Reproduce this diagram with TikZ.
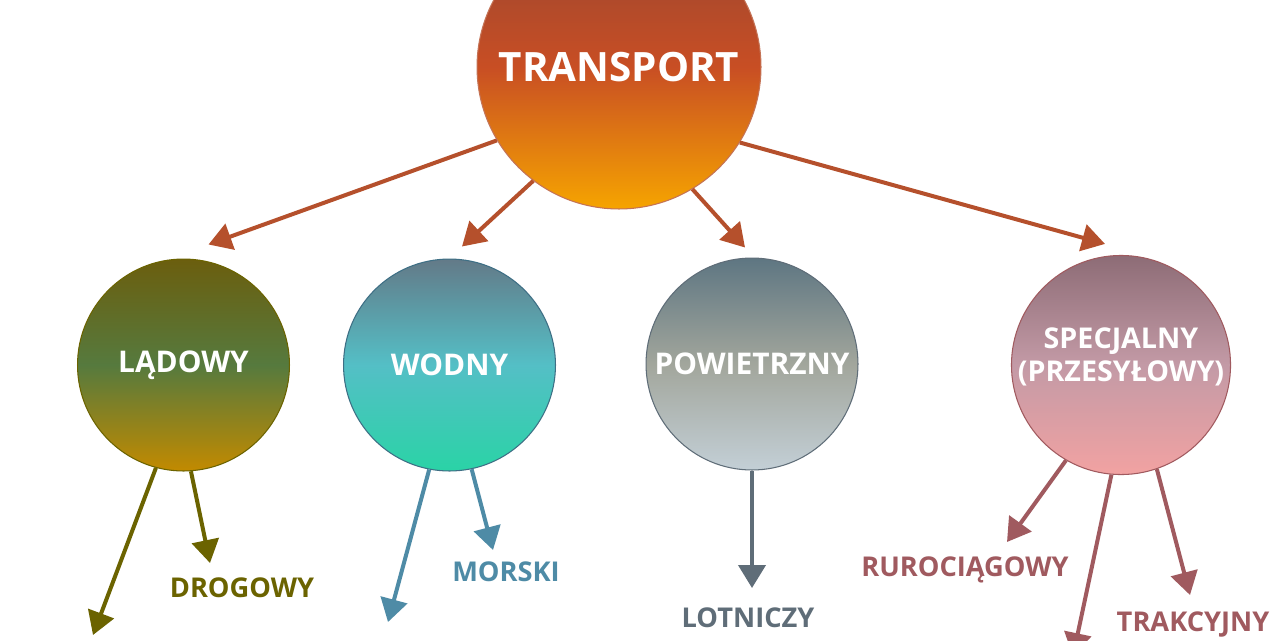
\documentclass[tikz,border=0pt]{standalone}
\usepackage{fontspec}
\setmainfont{Open Sans}
\usetikzlibrary{positioning, arrows.meta, calc}

\definecolor{mainarrow}{HTML}{B5502C}
\definecolor{ladarrow}{HTML}{6B6300}
\definecolor{wodarrow}{HTML}{4E8BA6}
\definecolor{powarrow}{HTML}{5F6D78}
\definecolor{specarrow}{HTML}{A05A5F}

\begin{document}
\begin{tikzpicture}[x=0.02cm, y=-0.02cm,
  mode/.style={circle, inner sep=0pt, minimum size=4.24cm, align=center, text=white,
    font=\fontsize{17}{19}\selectfont\bfseries},
  kind/.style={font=\fontsize{15.5}{18}\selectfont\bfseries, inner sep=0pt,
    text height=11pt, text depth=0pt},
  link/.style={-{Triangle[length=0.46cm,width=0.54cm]}, line width=0.08cm},
]
  \clip (0,0) rectangle (1280,640);
  \fill[white] (0,0) rectangle (1280,640);

  \node[circle, inner sep=0pt, minimum size=5.68cm, draw=mainarrow!80, line width=0.6pt,
    text=white, font=\fontsize{23}{26}\selectfont\bfseries,
    top color={rgb,255:red,150;green,70;blue,50}, bottom color={rgb,255:red,246;green,164;blue,0},
    middle color={rgb,255:red,200;green,78;blue,36}] (transport) at (619,67) {TRANSPORT};

  \node[mode, draw=ladarrow, line width=0.6pt,
    top color={rgb,255:red,107;green,94;blue,14}, bottom color={rgb,255:red,194;green,138;blue,0},
    middle color={rgb,255:red,86;green,122;blue,62}] (ladowy) at (183.5,365) {LĄDOWY};
  \node[mode, draw=wodarrow!80!black, line width=0.6pt,
    top color={rgb,255:red,99;green,122;blue,136}, bottom color={rgb,255:red,42;green,211;blue,166},
    middle color={rgb,255:red,84;green,191;blue,198}] (wodny) at (449.5,365) {WODNY};
  \node[mode, draw=powarrow, line width=0.6pt,
    top color={rgb,255:red,94;green,118;blue,130}, bottom color={rgb,255:red,195;green,207;blue,214},
    middle color={rgb,255:red,162;green,166;blue,156}] (powietrzny) at (752,364) {POWIETRZNY};
  \node[mode, draw=specarrow, line width=0.6pt, text depth=0.42cm,
    font=\fontsize{16.3}{18.6}\selectfont\bfseries,
    top color={rgb,255:red,141;green,108;blue,118}, bottom color={rgb,255:red,242;green,162;blue,162},
    middle color={rgb,255:red,195;green,154;blue,166}] (specjalny) at (1121,365)
    {SPECJALNY\\(PRZESYŁOWY)};

  \node[kind, text=ladarrow] (drogowy) at (242,588) {DROGOWY};
  \node[kind, text=wodarrow] (morski) at (506,572) {MORSKI};
  \node[kind, text=powarrow] (lotniczy) at (748,618) {LOTNICZY};
  \node[kind, text=specarrow] (rurociagowy) at (965,567) {RUROCIĄGOWY};
  \node[kind, text=specarrow] (trakcyjny) at (1193,622) {TRAKCYJNY};

  \coordinate (ladowy-out) at (93,635);
  \coordinate (wodny-out) at (388,622);
  \coordinate (specjalny-out) at (1073,656);

  \draw[link, mainarrow] (transport.211.6) -- ($(ladowy.north)+(25,-14)$);
  \draw[link, mainarrow] (transport.233.4) -- ($(wodny.north)+(12.5,-12)$);
  \draw[link, mainarrow] (transport.301) -- ($(powietrzny.north)+(-7,-10)$);
  \draw[link, mainarrow] (transport.328.2) -- ($(specjalny.north)+(-16,-11)$);

  \draw[link, ladarrow] (ladowy.255.6) -- (ladowy-out);
  \draw[link, ladarrow] (ladowy.274.6) -- ($(drogowy)+(-32,-25)$);
  \draw[link, wodarrow] (wodny.259.4) -- (wodny-out);
  \draw[link, wodarrow] (wodny.282.3) -- ($(morski)+(-13,-22)$);
  \draw[link, powarrow] (powietrzny.270) -- ($(lotniczy)+(4,-30)$);
  \draw[link, specarrow] (specjalny.240.3) -- ($(rurociagowy)+(42,-25)$);
  \draw[link, specarrow] (specjalny.265.1) -- (specjalny-out);
  \draw[link, specarrow] (specjalny.289.4) -- ($(trakcyjny)+(-3,-27)$);
\end{tikzpicture}
\end{document}
